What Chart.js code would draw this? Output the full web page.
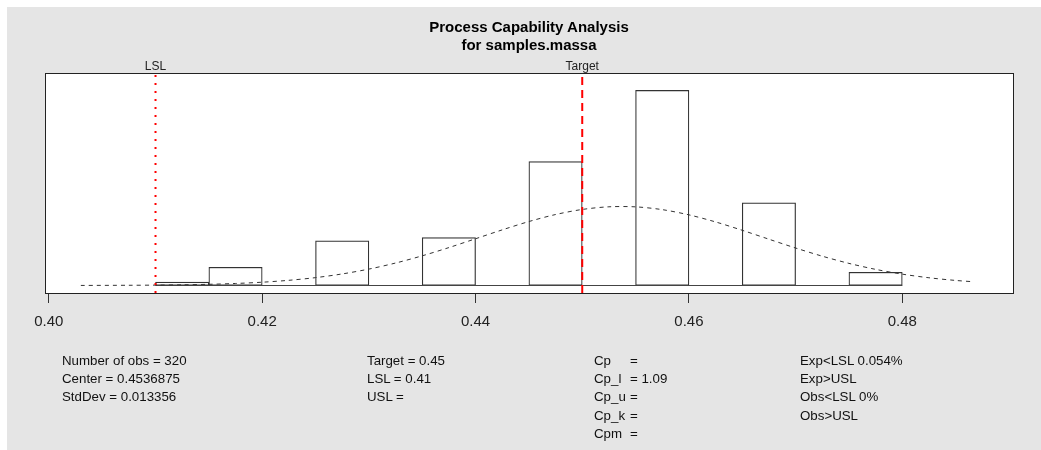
<!DOCTYPE html>
<html>
<head>
<meta charset="utf-8">
<script src="https://cdn.jsdelivr.net/npm/chart.js@4/dist/chart.umd.min.js"></script>
<style>
  body { margin: 0; background: #fff; font-family: "Liberation Sans", Arial, sans-serif; }
  #wrap { position: relative; width: 1041px; height: 450px; overflow: hidden; }
  #bg { position: absolute; left: 7px; top: 7px; width: 1034px; height: 443px; background: #e5e5e5; }
  #chart { position: absolute; left: 0; top: 0; }
  #title { position: absolute; left: 45px; width: 968px; top: 17.5px; text-align: center;
           font-weight: bold; font-size: 15px; line-height: 18.6px; color: #000; }
  .t { position: absolute; font-size: 13.3px; line-height: 16px; color: #111; white-space: pre; }
</style>
</head>
<body>
<div id="wrap">
  <div id="bg"></div>
  <canvas id="chart" width="1041" height="450"></canvas>
  <div id="title">Process Capability Analysis<br>for samples.massa</div>
  <div id="stats"></div>
</div>
<script>
// histogram (bins of 0.005, counts)
const nObs = 320
const binWidth = 0.005
const binMids = [0.4125, 0.4175, 0.4225, 0.4275, 0.4325, 0.4375, 0.4425, 0.4475, 0.4525, 0.4575, 0.4625, 0.4675, 0.4725, 0.4775]
const binCounts = [2, 11, 0, 27, 0, 29, 0, 75, 0, 118, 0, 50, 0, 8]
const binRange = [0.41, 0.48]

// dashed normal curve (density units)
const curveX = [0.403, 0.4075, 0.41, 0.4125, 0.415, 0.4175, 0.42, 0.4225, 0.425, 0.4275, 0.43, 0.4325, 0.435, 0.4375,
  0.44, 0.4425, 0.445, 0.4475, 0.45, 0.4525, 0.455, 0.4575, 0.46, 0.4625, 0.465, 0.4675, 0.47, 0.4725, 0.475, 0.4775,
  0.48, 0.4825, 0.485, 0.4867]
const curveY = [0.02, 0.08, 0.14, 0.26, 0.45, 0.76, 1.24, 1.96, 2.97, 4.37, 6.2, 8.49, 11.22, 14.33,
  17.67, 21.03, 24.18, 26.83, 28.75, 29.75, 29.73, 28.68, 26.71, 24.03, 20.87, 17.5, 14.17, 11.08, 8.36, 6.1,
  4.29, 2.92, 1.91, 1.41]

// spec limits
const specNames = ['LSL', 'Target']
const specValues = [0.41, 0.45]

const xTicks = [0.40, 0.42, 0.44, 0.46, 0.48]

// texts under the plot
const statsCol1 = ['Number of obs = 320', 'Center = 0.4536875', 'StdDev = 0.013356']
const statsCol2 = ['Target = 0.45', 'LSL = 0.41', 'USL =']
const capNames = ['Cp', 'Cp_l', 'Cp_u', 'Cp_k', 'Cpm']
const capValues = ['=', '= 1.09', '=', '=', '=']
const expObs = ['Exp<LSL 0.054%', 'Exp>USL', 'Obs<LSL 0%', 'Obs>USL']

const xMin = 0.39964, xMax = 0.49038
const yMin = -2.84, yMax = 80.34

// stats text blocks
const stats = document.querySelector('#stats')
function addCol(lines, left) {
    lines.forEach((txt, i) => {
        const d = document.createElement('div')
        d.className = 't'
        d.style.left = left + 'px'
        d.style.top = (352.5 + i * 18.4) + 'px'
        d.textContent = txt
        stats.appendChild(d)
    })
}
addCol(statsCol1, 62)
addCol(statsCol2, 367)
addCol(capNames, 594)
addCol(capValues, 630)
addCol(expObs, 800)

const plotBox = {
    id: 'plotBox',
    beforeDatasetsDraw(chart) {
        const a = chart.chartArea, c = chart.ctx
        c.save()
        c.fillStyle = '#fff'
        c.fillRect(a.left, a.top, a.right - a.left, a.bottom - a.top)
        c.restore()
    },
    afterDraw(chart) {
        const a = chart.chartArea, c = chart.ctx
        c.save()
        c.strokeStyle = '#222'
        c.lineWidth = 1
        c.strokeRect(a.left + 0.5, a.top + 0.5, a.right - a.left, a.bottom - a.top)
        // spec labels above the box
        c.fillStyle = '#222'
        c.font = '12px "Liberation Sans", Arial, sans-serif'
        c.textAlign = 'center'
        c.textBaseline = 'middle'
        specNames.forEach((name, i) => {
            c.fillText(name, chart.scales.x.getPixelForValue(specValues[i]), 67)
        })
        c.restore()
    }
}

const specLines = specValues.map((v, i) => ({
    type: 'line',
    data: [{ x: v, y: yMin }, { x: v, y: yMax }],
    borderColor: '#ff0000',
    borderWidth: 2,
    borderDash: i === 0 ? [2, 6] : [8, 5],
    pointRadius: 0,
    order: 1
}))

new Chart(document.querySelector('#chart'), {
    type: 'bar',
    data: {
        datasets: [
            {
                type: 'bar',
                data: binMids.map((m, i) => ({ x: m, y: binCounts[i] / (nObs * binWidth) })),
                backgroundColor: '#fff',
                borderColor: '#333',
                borderWidth: 1.2,
                borderSkipped: false,
                barPercentage: 1,
                categoryPercentage: 1,
                order: 5
            },
            {
                type: 'line',
                data: [{ x: binRange[0], y: 0 }, { x: binRange[1], y: 0 }],
                borderColor: '#444',
                borderWidth: 1.2,
                pointRadius: 0,
                order: 4
            },
            {
                type: 'line',
                data: curveX.map((x, i) => ({ x: x, y: curveY[i] })),
                borderColor: '#333',
                borderWidth: 1,
                borderDash: [4, 4],
                pointRadius: 0,
                tension: 0.3,
                order: 3
            },
            ...specLines
        ]
    },
    options: {
        responsive: false,
        animation: false,
        layout: { padding: { left: 45, right: 28, top: 73, bottom: 117 } },
        plugins: { legend: { display: false }, tooltip: { enabled: false } },
        scales: {
            x: {
                type: 'linear',
                min: xMin,
                max: xMax,
                offset: false,
                afterBuildTicks: (s) => { s.ticks = xTicks.map(v => ({ value: v })) },
                afterFit: (s) => { s.height = 40 },
                grid: { offset: false, drawOnChartArea: false, drawTicks: true, tickLength: 10, color: '#333' },
                border: { display: false },
                ticks: {
                    padding: 10,
                    color: '#222',
                    font: { size: 15, family: '"Liberation Sans", Arial, sans-serif' },
                    callback: (v) => Number(v).toFixed(2)
                }
            },
            y: { display: false, min: yMin, max: yMax }
        }
    },
    plugins: [plotBox]
})
</script>
</body>
</html>
